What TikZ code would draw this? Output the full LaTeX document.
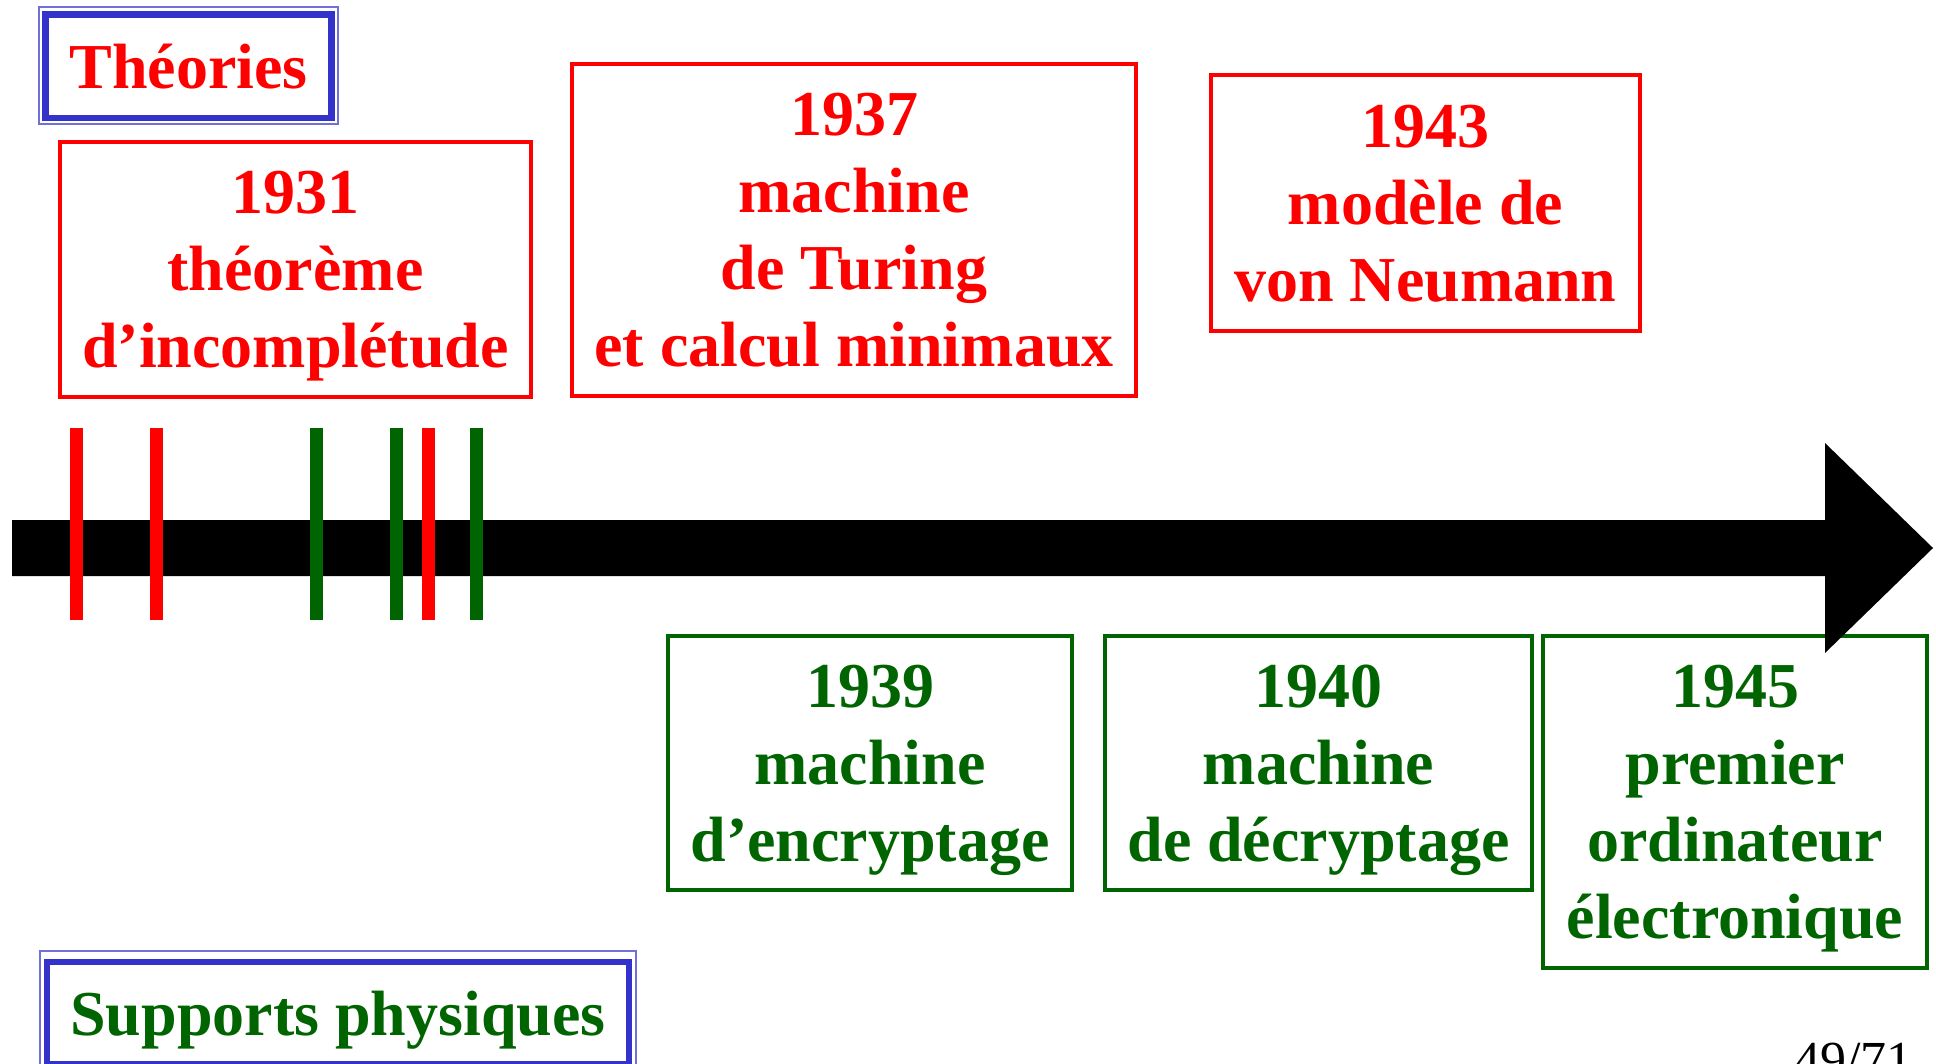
\documentclass[tikz,border=0pt]{standalone}
\usepackage{fontspec}
\setmainfont{Liberation Serif}
\definecolor{tred}{HTML}{FF0000}
\definecolor{tgreen}{HTML}{006400}
\definecolor{tblue}{HTML}{3333CC}
\tikzset{
  evbox/.style={draw, line width=2.25pt, inner sep=0pt, outer sep=0pt, align=center,
    text depth=0pt, font=\fontsize{32}{38.5}\selectfont\bfseries},
  redbox/.style={evbox, draw=tred, text=tred},
  greenbox/.style={evbox, draw=tgreen, text=tgreen},
  catbox/.style={draw=tblue, line width=3.2pt, inner sep=0pt, outer sep=0pt, align=center,
    text depth=0pt, font=\fontsize{32}{38.5}\selectfont\bfseries},
  thinframe/.style={draw=tblue!70, line width=0.8pt},
  tickred/.style={fill=tred},
  tickgreen/.style={fill=tgreen},
}
\begin{document}
\begin{tikzpicture}[x=0.5pt,y=-0.5pt]
\useasboundingbox (0,0) rectangle (1936,1064);
\clip (0,0) rectangle (1936,1064);
% category frames
\draw[thinframe] (39,7) rectangle (338,124);
\node[catbox, text=tred, minimum width=143pt, minimum height=51.75pt] (theo) at (188.5,66.25) {Théories};
\draw[thinframe] (40,951) rectangle (636,1075);
\node[catbox, text=tgreen, minimum width=291pt, minimum height=51pt] (supp) at (338,1013) {Supports physiques};
% event boxes
\node[redbox, minimum width=235.5pt, minimum height=127.5pt] (e1931) at (295.5,269.5) {1931\\théorème\\d’incomplétude};
\node[redbox, minimum width=282pt, minimum height=166pt] (e1937) at (854,230) {1937\\machine\\de Turing\\et calcul minimaux};
\node[redbox, minimum width=214.5pt, minimum height=128pt] (e1943) at (1425.5,203) {1943\\modèle de\\von Neumann};
\node[greenbox, minimum width=202pt, minimum height=127pt] (e1939) at (870,763) {1939\\machine\\d’encryptage};
\node[greenbox, minimum width=213.5pt, minimum height=127pt] (e1940) at (1318.5,763) {1940\\machine\\de décryptage};
\node[greenbox, minimum width=192pt, minimum height=166pt] (e1945) at (1735,802) {1945\\premier\\ordinateur\\électronique};
% time arrow
\fill[black] (12,520) -- (1825,520) -- (1825,443) -- (1933,548) -- (1825,653) -- (1825,576) -- (12,576) -- cycle;
% ticks
\fill[tickred] (70,428) rectangle (83,620);
\fill[tickred] (150,428) rectangle (163,620);
\fill[tickgreen] (310,428) rectangle (323,620);
\fill[tickgreen] (390,428) rectangle (403,620);
\fill[tickred] (422,428) rectangle (435,620);
\fill[tickgreen] (470,428) rectangle (483,620);
% page number
\node[anchor=base west, inner sep=0pt, font=\fontsize{26}{30}\selectfont] (page) at (1794,1077) {49/71};
\end{tikzpicture}
\end{document}
